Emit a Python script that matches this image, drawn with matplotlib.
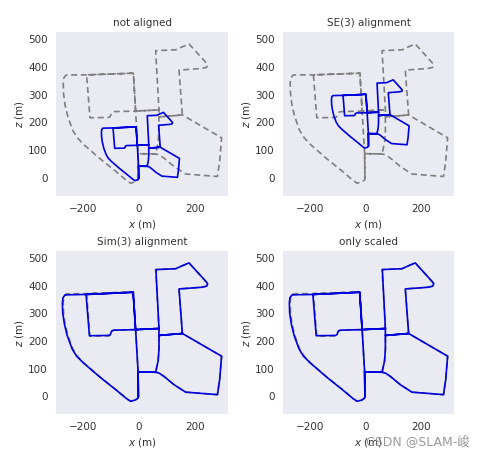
import matplotlib
matplotlib.use("Agg")
import matplotlib.pyplot as plt
import matplotlib.transforms as mtransforms

# reference trajectory (x, z in metres), in driving order
ref_x = [-2, -3, 60, 72, 90, 126, 168, 282, 290, 297, 156, 72, 72, 60,
         132, 156, 180, 238, 247, 243, 225, 144, 156, 72, 72, 69, 60, -3, -2,
         -3, -12, -30, -45, -80, -140, -200, -222, -238, -256, -266, -271,
         -272, -270, -262, -246, -188, -20, -12, -90, -98, -103, -108, -176,
         -188, -20, -12, 72, -12, -3]
ref_z = [0, 88, 87, 84, 72, 42, 15, 6, 60, 145, 227, 220, 245, 458,
         461, 472, 482, 418, 407, 398, 394, 388, 227, 220, 170, 128, 87, 88, 0,
         -6, -13, -18, -8, 22, 70, 122, 146, 172, 222, 265, 305,
         340, 360, 370, 371, 371, 377, 241, 239, 236, 222, 218, 217,
         371, 377, 241, 245, 241, 88]

# estimated trajectory after scale correction (drifts a little on the west side)
est_x = [-2, -3, 60, 72, 90, 126, 168, 282, 290, 297, 156, 72, 72, 61,
         132, 156, 180, 238, 247, 243, 225, 144, 156, 72, 72, 69, 60, -3, -2,
         -3, -12, -30, -45, -81, -141, -201, -224, -240, -258, -268, -274,
         -275, -273, -266, -250, -190, -21, -12, -90, -98, -103, -108, -178,
         -190, -21, -12, 72, -12, -3]
est_z = [0, 88, 87, 84, 72, 42, 15, 6, 60, 145, 227, 220, 245, 458,
         461, 472, 482, 418, 407, 398, 394, 388, 227, 220, 170, 128, 87, 88, 0,
         -6, -13, -18, -8, 22, 70, 122, 145, 171, 220, 262, 302,
         337, 356, 366, 367, 368, 376, 241, 239, 236, 223, 220, 219,
         368, 376, 241, 245, 241, 88]

titles = ["not aligned", "SE(3) alignment", "Sim(3) alignment", "only scaled"]
est_scale = [0.49, 0.49, 1.0, 1.0]
est_shift_x = [0, 12, 0, 0]
est_shift_z = [0, 117, 0, 0]

xticks = [-200, 0, 200]
zticks = [0, 100, 200, 300, 400, 500]

rects = [
    [0.1155, 0.573, 0.3546, 0.3573],
    [0.5835, 0.573, 0.3526, 0.3573],
    [0.1155, 0.098, 0.3546, 0.3551],
    [0.5835, 0.098, 0.3526, 0.3551],
]

plt.rcParams["font.family"] = ["DejaVu Sans", "Noto Sans CJK SC"]
fig = plt.figure(figsize=(4.85, 4.59), dpi=100)

for i in range(4):
    ax = fig.add_axes(rects[i])
    ax.set_facecolor("#EAEAF2")
    for s in ax.spines.values():
        s.set_visible(False)

    ax.plot(ref_x, ref_z, color="#7f7f7f", lw=1.2, dashes=(3.6, 2.2))
    tr = (mtransforms.Affine2D().scale(est_scale[i])
          .translate(est_shift_x[i], est_shift_z[i]) + ax.transData)
    ax.plot(est_x, est_z, "-", color="#0000dd", lw=1.2, transform=tr)

    ax.set_xlim(-298, 320)
    ax.set_ylim(-64, 525)
    ax.set_xticks(xticks)
    ax.set_yticks(zticks)
    ax.tick_params(length=0, pad=6, labelsize=7.5, colors="#333333")
    ax.set_xlabel("$x$ (m)", fontsize=7.5, labelpad=2.5, color="#333333")
    ax.set_ylabel("$z$ (m)", fontsize=7.5, labelpad=1.5, color="#333333")
    ax.set_title(titles[i], fontsize=7.5, pad=4, color="#333333")

fig.text(0.862, 0.037, "CSDN @SLAM-峻", fontsize=9, color="#9a9a9a",
         ha="center", va="center")

fig.savefig("out.png", dpi=100)
